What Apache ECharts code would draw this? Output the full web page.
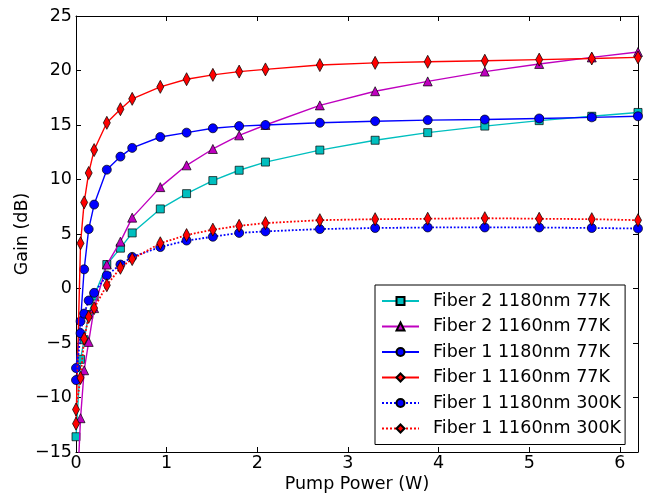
<!DOCTYPE html>
<html>
<head>
<meta charset="utf-8">
<script src="https://cdn.jsdelivr.net/npm/echarts@6/dist/echarts.min.js"></script>
<style>html,body{margin:0;padding:0;background:#fff}#c{width:648px;height:494px}</style>
</head>
<body>
<div id="c"></div>
<script>
var pump = [0, 0.05, 0.09, 0.14, 0.2, 0.34, 0.49, 0.62, 0.93, 1.22, 1.51, 1.8, 2.09, 2.69, 3.3, 3.88, 4.51, 5.11, 5.69, 6.2];
var f2_1180_77 = [-13.6, -6.5, -4.7, -2.4, -0.7, 2.2, 3.7, 5.1, 7.3, 8.7, 9.9, 10.85, 11.6, 12.7, 13.6, 14.3, 14.9, 15.4, 15.8, 16.15];
var f2_1160_77 = [-21, -11.9, -7.5, -4.9, -1.8, 2.2, 4.3, 6.5, 9.3, 11.3, 12.8, 14.05, 15.0, 16.8, 18.1, 19.0, 19.9, 20.6, 21.2, 21.7];
var f1_1180_77 = [-7.3, -3.0, 1.76, 5.45, 7.7, 10.9, 12.1, 12.9, 13.9, 14.3, 14.7, 14.9, 15.0, 15.2, 15.35, 15.45, 15.5, 15.6, 15.7, 15.8];
var f1_1160_77 = [-12.4, 4.15, 7.9, 10.6, 12.7, 15.2, 16.45, 17.4, 18.5, 19.2, 19.6, 19.9, 20.1, 20.5, 20.7, 20.8, 20.9, 21.0, 21.1, 21.2];
var f1_1180_300 = [-8.4, -4.1, -2.3, -1.1, -0.4, 1.2, 2.2, 2.9, 3.8, 4.4, 4.75, 5.1, 5.24, 5.45, 5.55, 5.6, 5.6, 5.6, 5.55, 5.5];
var f1_1160_300 = [-11.1, -8.2, -4.6, -2.6, -1.8, 0.3, 1.9, 2.7, 4.15, 4.9, 5.4, 5.75, 6.0, 6.27, 6.36, 6.4, 6.45, 6.4, 6.36, 6.27];
var names = ['Fiber 2 1180nm 77K', 'Fiber 2 1160nm 77K', 'Fiber 1 1180nm 77K', 'Fiber 1 1160nm 77K', 'Fiber 1 1180nm 300K', 'Fiber 1 1160nm 300K'];
var xTicks = [0, 1, 2, 3, 4, 5, 6];
var yTicks = [-15, -10, -5, 0, 5, 10, 15, 20, 25];

function pairs(ys) { return pump.map(function (x, i) { return [x, ys[i]]; }); }

var font = 'DejaVu Sans';
var fs = 17.5;
var styles = [
  {data: f2_1180_77, color: '#00BFBF', symbol: 'rect', size: 8, type: 'solid'},
  {data: f2_1160_77, color: '#BF00BF', symbol: 'triangle', size: 9, type: 'solid'},
  {data: f1_1180_77, color: '#0000FF', symbol: 'circle', size: 9, type: 'solid'},
  {data: f1_1160_77, color: '#FF0000', symbol: 'diamond', size: [7, 13], type: 'solid'},
  {data: f1_1180_300, color: '#0000FF', symbol: 'circle', size: 9, type: 'dotted'},
  {data: f1_1160_300, color: '#FF0000', symbol: 'diamond', size: [7, 13], type: 'dotted'}
];

var series = styles.map(function (s, i) {
  return {
    name: names[i], type: 'line', data: pairs(s.data),
    symbol: s.symbol, symbolSize: s.size, showAllSymbol: true,
    lineStyle: {color: s.color, width: s.type === 'dotted' ? 1.8 : 1.4, type: s.type},
    itemStyle: {color: s.color, borderColor: '#000', borderWidth: 0.7},
    emphasis: {disabled: true}, animation: false, z: 2 + i
  };
});

var axisCommon = {
  axisLine: {show: true, onZero: false, lineStyle: {color: '#000', width: 1}},
  axisTick: {show: true, inside: true, length: 5, lineStyle: {color: '#000'}},
  splitLine: {show: false}
};

var chart = echarts.init(document.getElementById('c'));
chart.setOption({
  backgroundColor: '#fff',
  animation: false,
  grid: {left: 76, right: 10, top: 16, bottom: 42, outerBoundsMode: 'none'},
  legend: {
    orient: 'vertical', left: 375, top: 285,
    data: names,
    itemWidth: 37, itemHeight: 10, itemGap: 7.5,
    padding: [7, 4, 7, 6],
    borderColor: '#000', borderWidth: 1, backgroundColor: '#fff',
    textStyle: {fontFamily: font, fontSize: fs, color: '#000', padding: [0, 0, 0, 9]},
    z: 20
  },
  xAxis: [
    Object.assign({}, axisCommon, {
      type: 'value', min: 0, max: 6.2, interval: 1, position: 'bottom',
      name: 'Pump Power (W)', nameLocation: 'middle', nameGap: 23, nameMoveOverlap: false,
      nameTextStyle: {fontFamily: font, fontSize: fs, color: '#000'},
      axisLabel: {fontFamily: font, fontSize: fs, color: '#000', margin: 2,
        formatter: function (v) { return xTicks.indexOf(v) >= 0 ? String(v) : ''; }}
    }),
    Object.assign({}, axisCommon, {
      type: 'value', min: 0, max: 6.2, interval: 1, position: 'top',
      axisLabel: {show: false}
    })
  ],
  yAxis: [
    Object.assign({}, axisCommon, {
      type: 'value', min: -15, max: 25, interval: 5, position: 'left',
      name: 'Gain (dB)', nameLocation: 'middle', nameGap: 45, nameMoveOverlap: false,
      nameTextStyle: {fontFamily: font, fontSize: fs, color: '#000'},
      axisLabel: {fontFamily: font, fontSize: fs, color: '#000', margin: 4,
        formatter: function (v) { return yTicks.indexOf(v) >= 0 ? String(v).replace('-', '\u2212') : ''; }}
    }),
    Object.assign({}, axisCommon, {
      type: 'value', min: -15, max: 25, interval: 5, position: 'right',
      axisLabel: {show: false}
    })
  ],
  series: series
});
</script>
</body>
</html>
